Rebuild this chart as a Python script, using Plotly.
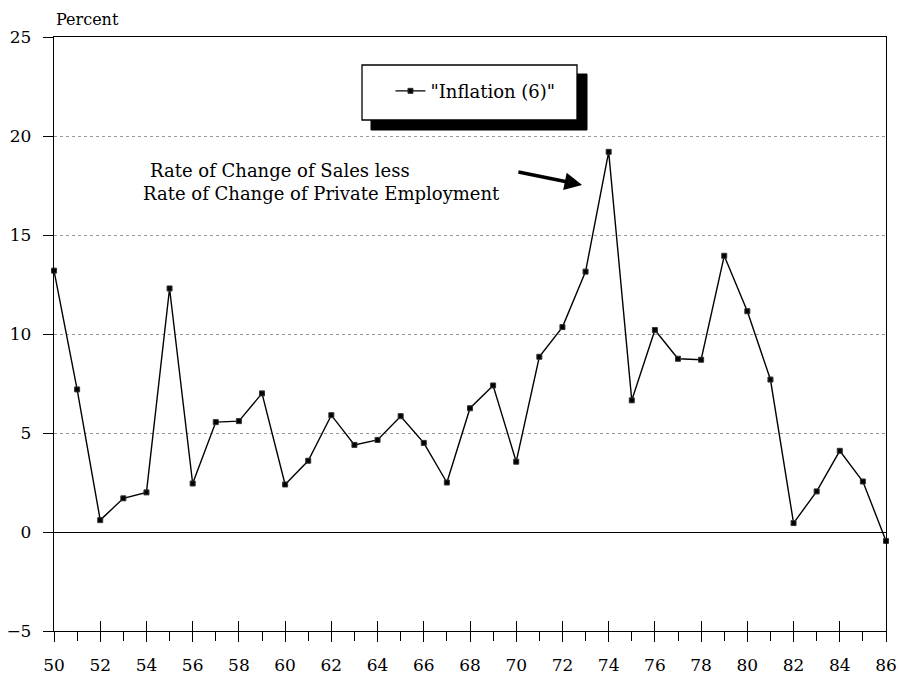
import plotly.graph_objects as go

years = list(range(50, 87))
inflation = [13.2, 7.2, 0.6, 1.7, 2.0, 12.3, 2.45, 5.55, 5.6, 7.0,
             2.4, 3.6, 5.9, 4.4, 4.65, 5.85, 4.5, 2.5, 6.25, 7.4,
             3.55, 8.85, 10.35, 13.15, 19.2, 6.65, 10.2, 8.75, 8.7, 13.95,
             11.15, 7.7, 0.45, 2.05, 4.1, 2.55, -0.45]
series_name = '"Inflation (6)"'
y_ticks = [-5, 0, 5, 10, 15, 20, 25]
x_ticks = list(range(50, 87, 2))

FONT = "DejaVu Serif"

fig = go.Figure()
fig.add_trace(go.Scatter(
    x=years, y=inflation, mode="lines+markers", name=series_name,
    line=dict(color="black", width=1.4),
    marker=dict(symbol="square", size=5, color="black", line=dict(color="#333", width=1)),
    cliponaxis=False,
))
# helper trace so the overlay axis (inner major ticks) is drawn
fig.add_trace(go.Scatter(x=years, y=inflation, xaxis="x2", mode="none",
                         showlegend=False, hoverinfo="skip"))

axis_font = dict(family=FONT, size=17, color="black")

fig.update_layout(
    width=901, height=681,
    margin=dict(l=54, r=15, t=37, b=50),
    paper_bgcolor="white", plot_bgcolor="white",
    font=dict(family=FONT, size=17, color="black"),
    xaxis=dict(
        range=[50, 86], tickvals=x_ticks, ticktext=[str(v) for v in x_ticks],
        ticks="outside", ticklen=10, tickwidth=1, tickcolor="black",
        minor=dict(dtick=1, tick0=51, ticks="outside", ticklen=9, tickcolor="black", tickwidth=1),
        showline=True, linecolor="black", linewidth=1.3, mirror=True,
        showgrid=False, zeroline=False, tickfont=axis_font, ticklabelstandoff=8,
        automargin=False,
    ),
    xaxis2=dict(
        range=[50, 86], overlaying="x", anchor="y", side="bottom",
        tickvals=x_ticks, showticklabels=False,
        ticks="inside", ticklen=10, tickwidth=1, tickcolor="black",
        showline=False, showgrid=False, zeroline=False, automargin=False,
    ),
    yaxis=dict(
        range=[-5, 25], tickvals=y_ticks,
        ticks="outside", ticklen=10, tickwidth=1, tickcolor="black",
        showline=True, linecolor="black", linewidth=1.3, mirror=True,
        showgrid=True, gridcolor="#999", gridwidth=1, griddash="dot",
        zeroline=True, zerolinecolor="black", zerolinewidth=1.3,
        tickfont=axis_font, ticklabelstandoff=8, automargin=False,
    ),
    legend=dict(
        x=0.4044, y=0.94, xanchor="left", yanchor="top",
        bgcolor="rgba(0,0,0,0)", borderwidth=0,
        font=dict(family=FONT, size=18, color="black"),
    ),
    showlegend=True,
)

# legend box with drop shadow
fig.add_shape(type="rect", xref="paper", yref="paper", layer="above",
              x0=(371 - 54) / 832, x1=(587 - 54) / 832,
              y0=1 - (130 - 37) / 594, y1=1 - (74 - 37) / 594,
              fillcolor="black", line=dict(color="black", width=1))
fig.add_shape(type="rect", xref="paper", yref="paper", layer="above",
              x0=(362 - 54) / 832, x1=(577 - 54) / 832,
              y0=1 - (120 - 37) / 594, y1=1 - (65 - 37) / 594,
              fillcolor="white", line=dict(color="black", width=1.3))

fig.add_annotation(text="Percent", xref="paper", yref="paper", x=0, y=1,
                   xanchor="left", yanchor="bottom", yshift=6, showarrow=False,
                   font=dict(family=FONT, size=16, color="black"))

fig.add_annotation(text="Rate of Change of Sales less", xref="paper", yref="paper",
                   x=(148 - 54) / 832, y=1 - (170 - 37) / 594, xanchor="left", yanchor="middle",
                   showarrow=False, font=dict(family=FONT, size=18, color="black"))
fig.add_annotation(text="Rate of Change of Private Employment", xref="paper", yref="paper",
                   x=(141 - 54) / 832, y=1 - (194 - 37) / 594, xanchor="left", yanchor="middle",
                   showarrow=False, font=dict(family=FONT, size=18, color="black"))
fig.add_annotation(text="", x=72.85, y=17.53, ax=70.03, ay=18.2, axref="x", ayref="y",
                   showarrow=True, arrowhead=2, arrowsize=1, arrowwidth=3.5, arrowcolor="black")

fig.write_html("out.html", config={"displayModeBar": False},
               post_script="document.body.style.margin='0';document.body.style.overflow='hidden';")
